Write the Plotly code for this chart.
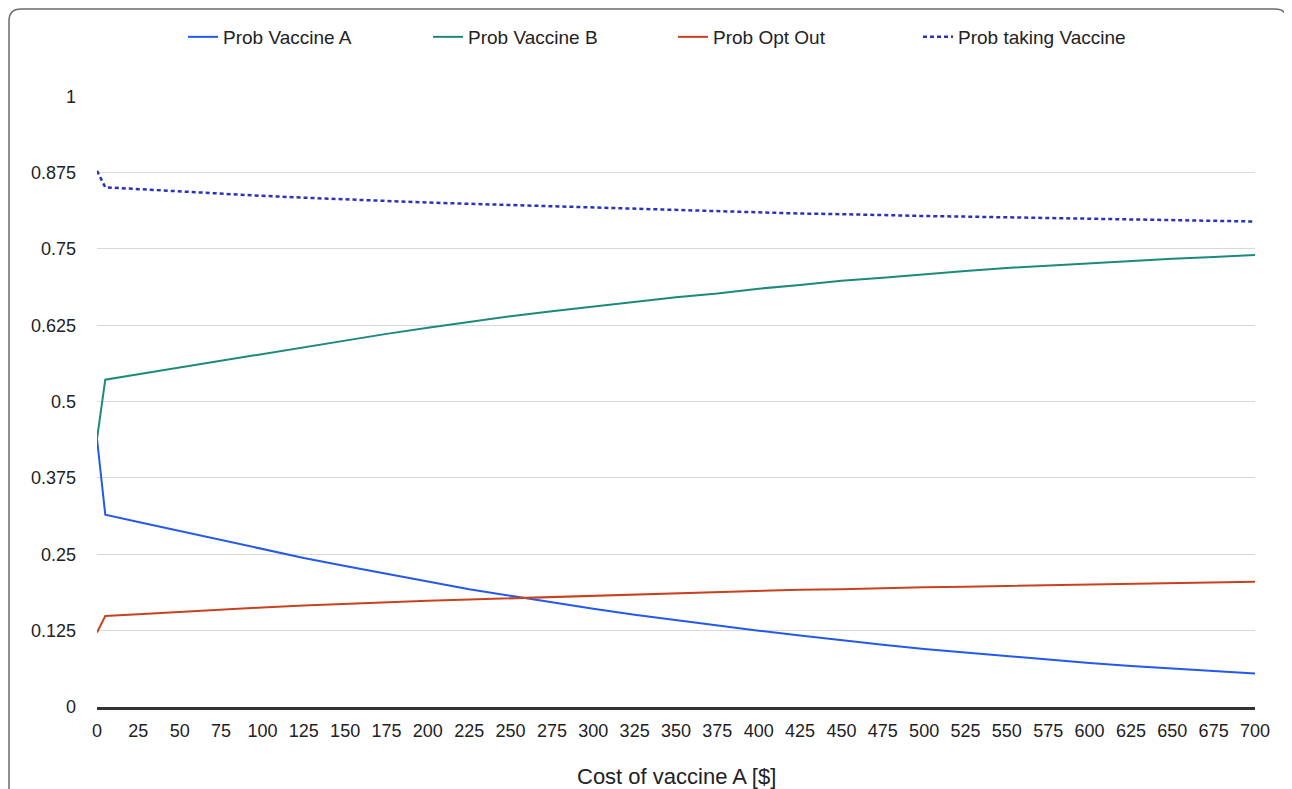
import plotly.graph_objects as go

# ---- data ----
cost = [0, 5, 25, 50, 75, 100, 125, 150, 175, 200, 225, 250, 275, 300, 325, 350,
        375, 400, 425, 450, 475, 500, 525, 550, 575, 600, 625, 650, 675, 700]

prob_vaccine_a = [0.439, 0.315, 0.303, 0.288, 0.273, 0.258, 0.244, 0.231, 0.218, 0.205,
                  0.193, 0.182, 0.171, 0.161, 0.151, 0.142, 0.134, 0.125, 0.117, 0.109,
                  0.102, 0.095, 0.089, 0.083, 0.077, 0.072, 0.067, 0.063, 0.059, 0.055]

prob_vaccine_b = [0.439, 0.536, 0.545, 0.556, 0.568, 0.579, 0.590, 0.600, 0.611, 0.621,
                  0.631, 0.640, 0.648, 0.656, 0.664, 0.671, 0.677, 0.685, 0.691, 0.698,
                  0.703, 0.709, 0.714, 0.719, 0.723, 0.727, 0.731, 0.734, 0.737, 0.740]

prob_opt_out = [0.122, 0.149, 0.152, 0.156, 0.159, 0.163, 0.166, 0.169, 0.171, 0.174,
                0.176, 0.178, 0.181, 0.183, 0.185, 0.187, 0.189, 0.190, 0.192, 0.193,
                0.195, 0.196, 0.197, 0.198, 0.200, 0.201, 0.202, 0.203, 0.204, 0.205]

prob_taking_vaccine = [0.878, 0.851, 0.848, 0.844, 0.841, 0.837, 0.834, 0.831, 0.829, 0.826,
                       0.824, 0.822, 0.819, 0.817, 0.815, 0.813, 0.811, 0.810, 0.808, 0.807,
                       0.805, 0.804, 0.803, 0.802, 0.800, 0.799, 0.798, 0.797, 0.796, 0.795]

series_names = ["Prob Vaccine A", "Prob Vaccine B", "Prob Opt Out", "Prob taking Vaccine"]

x_tick_vals = [0, 25, 50, 75, 100, 125, 150, 175, 200, 225, 250, 275, 300, 325, 350,
               375, 400, 425, 450, 475, 500, 525, 550, 575, 600, 625, 650, 675, 700]
y_tick_vals = [0, 0.125, 0.25, 0.375, 0.5, 0.625, 0.75, 0.875, 1]
y_tick_text = ["0", "0.125", "0.25", "0.375", "0.5", "0.625", "0.75", "0.875", "1"]

x_title = "Cost of vaccine A [$]"

# ---- figure ----
FONT = "Liberation Sans, Arial, Helvetica, sans-serif"
TXT = "#222222"

OFF = 8  # page body margin around the figure
W, H = 1292, 789
# plot area in screen pixels
SL, SR, ST, SB = 97, 1255, 96, 707
ML, MT = SL - OFF, ST - OFF
MR = W - (SR - OFF)
MB = H - (SB - OFF)
PW, PH = SR - SL, SB - ST

fig = go.Figure()
fig.add_trace(go.Scatter(x=cost, y=prob_vaccine_a, name=series_names[0], mode="lines",
                         line=dict(color="#2458ee", width=2)))
fig.add_trace(go.Scatter(x=cost, y=prob_vaccine_b, name=series_names[1], mode="lines",
                         line=dict(color="#1b8a7c", width=2)))
fig.add_trace(go.Scatter(x=cost, y=prob_opt_out, name=series_names[2], mode="lines",
                         line=dict(color="#c8421f", width=2)))
fig.add_trace(go.Scatter(x=cost, y=prob_taking_vaccine, name=series_names[3], mode="lines",
                         line=dict(color="#2a33b8", width=2.5, dash="4px,3px")))


def px_x(p):
    """screen x pixel -> paper x"""
    return (p - SL) / PW


def px_y(p):
    """screen y pixel -> paper y"""
    return (SB - p) / PH


# rounded outer frame (extends below the picture bottom)
L, R, T, B, RAD = 9, 1287, 9, 830, 12
rx, ry = RAD / PW, RAD / PH
x0, x1, y0, y1 = px_x(L), px_x(R), px_y(B), px_y(T)
path = (f"M {x0 + rx},{y1} L {x1 - rx},{y1} Q {x1},{y1} {x1},{y1 - ry} "
        f"L {x1},{y0 + ry} Q {x1},{y0} {x1 - rx},{y0} L {x0 + rx},{y0} "
        f"Q {x0},{y0} {x0},{y0 + ry} L {x0},{y1 - ry} Q {x0},{y1} {x0 + rx},{y1} Z")
fig.add_shape(type="path", path=path, xref="paper", yref="paper",
              line=dict(color="#6b6b6b", width=1.5), layer="below")

fig.add_annotation(text=x_title, xref="paper", yref="paper", x=px_x(676.5), y=px_y(776),
                   xanchor="center", yanchor="middle", showarrow=False,
                   font=dict(family=FONT, size=22, color=TXT))

fig.update_layout(
    width=W, height=H,
    margin=dict(l=ML, r=MR, t=MT, b=MB, autoexpand=False),
    paper_bgcolor="white", plot_bgcolor="white",
    font=dict(family=FONT, color=TXT, size=18),
    showlegend=True,
    legend=dict(orientation="h", x=px_x(183), xanchor="left", y=px_y(37), yanchor="middle",
                font=dict(family=FONT, size=19, color=TXT), entrywidth=200,
                entrywidthmode="pixels", bgcolor="rgba(0,0,0,0)", itemwidth=30),
    xaxis=dict(range=[0, 700], tickmode="array", tickvals=x_tick_vals,
               showgrid=False, zeroline=False, showline=True, linecolor="#333333",
               linewidth=2.5, ticks="", ticklabelstandoff=6,
               tickfont=dict(family=FONT, size=18, color=TXT), automargin=False),
    yaxis=dict(range=[0, 1.0005], tickmode="array", tickvals=y_tick_vals, ticktext=y_tick_text,
               showgrid=True, gridcolor="#d9d9d9", gridwidth=1.3, zeroline=False,
               showline=False, ticks="", ticklabelstandoff=20,
               tickfont=dict(family=FONT, size=18, color=TXT), automargin=False),
)

fig.write_html("out.html")
